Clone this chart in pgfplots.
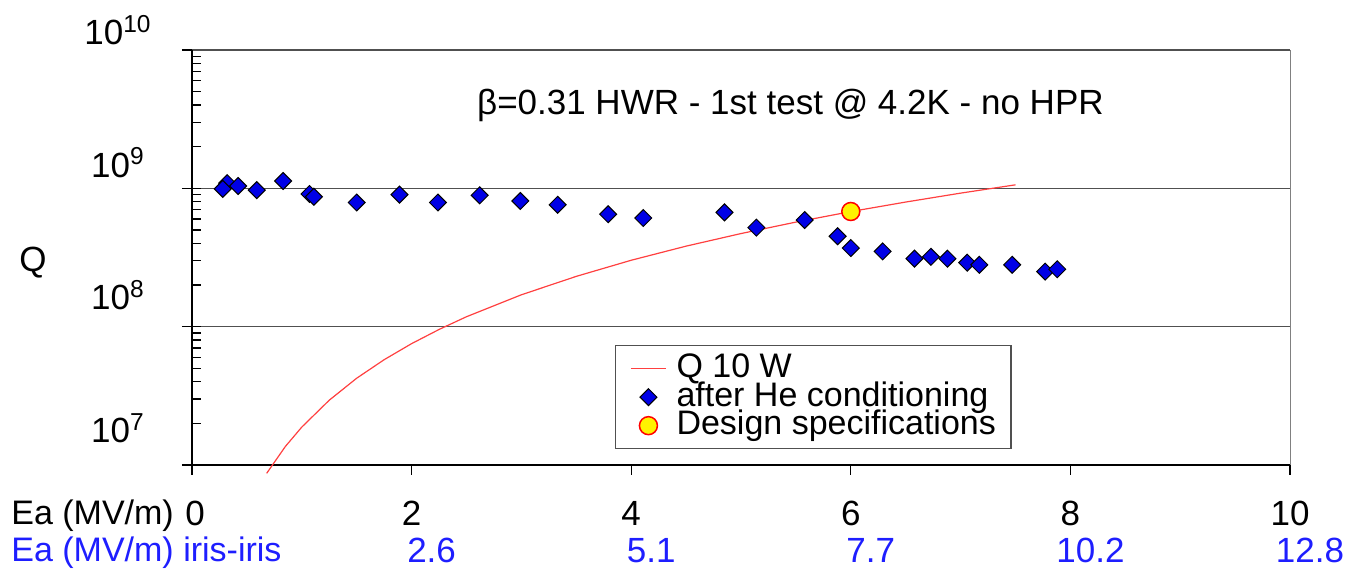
\documentclass[border=0pt]{standalone}
\usepackage{fontspec}
\setmainfont{Liberation Sans}
\usepackage{pgfplots}
\pgfplotsset{compat=1.18}
\definecolor{gridc}{HTML}{505050}
\definecolor{irisblue}{HTML}{1E1EFF}
\definecolor{diablue}{HTML}{0000E6}
\definecolor{qred}{HTML}{FF4040}

\begin{document}
\begin{tikzpicture}
\begin{axis}[
  scale only axis,
  width=549pt, height=207.5pt,
  xmin=0, xmax=10,
  ymode=log, ymin=1e7, ymax=1e10,
  axis lines=left,
  axis line style={-, black, line width=0.75pt},
  tick align=outside,
  major tick length=5pt,
  minor tick length=4.5pt,
  minor y tick style={xshift=4.5pt},
  tick style={black, line width=0.6pt},
  ymajorgrids,
  major grid style={gridc, line width=0.75pt},
  clip=false,
  xtick={0,2,4,6,8,10},
  xticklabels={\hspace*{3pt}0,
    {2\\\hspace*{20pt}\textcolor{irisblue}{2.6}},
    {4\\\hspace*{20pt}\textcolor{irisblue}{5.1}},
    {6\\\hspace*{20pt}\textcolor{irisblue}{7.7}},
    {8\\\hspace*{20pt}\textcolor{irisblue}{10.2}},
    {10\\\hspace*{20pt}\textcolor{irisblue}{12.8}}},
  xticklabel style={align=center, font=\fontsize{17.5}{18.5}\selectfont, inner sep=0pt, yshift=-13pt},
  ytick={1e7,1e8,1e9,1e10},
  yticklabels={
    \raisebox{11pt}[0pt][0pt]{10\textsuperscript{7}},
    \raisebox{8.5pt}[0pt][0pt]{10\textsuperscript{8}},
    \raisebox{5.5pt}[0pt][0pt]{10\textsuperscript{9}},
    \raisebox{2.5pt}[0pt][0pt]{10\textsuperscript{10}}},
  yticklabel style={anchor=center, inner sep=0pt, xshift=-32pt, font=\fontsize{17.5}{18.5}\selectfont},
  legend style={at={(0.385,0.289)}, anchor=north west, draw=gridc, line width=0.6pt,
    font=\fontsize{17}{17}\selectfont, row sep=1.25pt, inner xsep=7.5pt, inner ysep=5pt,
    nodes={inner sep=0pt, text height=11pt, text depth=2pt},
    /tikz/every odd column/.append style={column sep=5pt}},
  legend cell align=left,
  legend image code/.code={\draw[mark repeat=2,mark phase=2,#1]
    plot coordinates {(0pt,0pt)(8.75pt,0pt)(17.5pt,0pt)};},
]

% Q at 10 W dissipated power
\addplot[color=qred, line width=0.6pt] coordinates {
  (0.68,8.7e6)(0.85,1.36e7)(1.0,1.88e7)(1.25,2.94e7)(1.5,4.24e7)(1.75,5.77e7)
  (2.0,7.54e7)(2.25,9.54e7)(2.5,1.18e8)(3.0,1.70e8)
  (3.5,2.31e8)(4.0,3.02e8)(4.5,3.82e8)(5.0,4.71e8)(5.5,5.70e8)(6.0,6.79e8)
  (6.5,7.96e8)(7.0,9.23e8)(7.5,1.06e9)};
\addlegendentry{Q 10 W}

% measured after He conditioning
\addplot[only marks, mark=square*, mark size=3pt,
  mark options={rotate=45, fill=diablue, draw=black, line width=0.5pt}] coordinates {
  (0.32,1.09e9)(0.28,0.99e9)(0.42,1.04e9)(0.59,0.97e9)(0.83,1.13e9)
  (1.07,0.91e9)(1.11,0.87e9)(1.50,0.79e9)(1.89,0.90e9)(2.24,0.79e9)
  (2.62,0.89e9)(2.99,0.81e9)(3.33,0.76e9)(3.79,0.65e9)(4.11,0.61e9)
  (4.85,0.67e9)(5.14,0.52e9)(5.58,0.59e9)(5.88,0.45e9)(6.00,0.37e9)
  (6.29,0.35e9)(6.58,0.31e9)(6.73,0.32e9)(6.88,0.31e9)(7.06,0.29e9)
  (7.17,0.28e9)(7.47,0.28e9)(7.77,0.25e9)(7.88,0.26e9)};
\addlegendentry{after He conditioning}

% design point
\addplot[only marks, mark=*, mark size=4.5pt,
  mark options={fill=yellow, draw=red, line width=0.75pt}] coordinates {(6.0,0.68e9)};
\addlegendentry{Design specifications}

\draw[gray, line width=0.5pt] (rel axis cs:1,0) -- (rel axis cs:1,1);
\node[font=\fontsize{17.5}{20}\selectfont] at (rel axis cs:0.545,0.867)
  {β=0.31 HWR - 1st test @ 4.2K - no HPR};
\node[font=\fontsize{17.5}{18}\selectfont] at ([xshift=-79.5pt, yshift=101pt]rel axis cs:0,0) {Q};
\node[anchor=west, inner sep=0pt, font=\fontsize{17}{18}\selectfont]
  at ([xshift=-90.5pt, yshift=-25.5pt]rel axis cs:0,0) {Ea (MV/m)};
\node[anchor=west, inner sep=0pt, text=irisblue, font=\fontsize{17}{18}\selectfont]
  at ([xshift=-90.5pt, yshift=-44pt]rel axis cs:0,0) {Ea (MV/m) iris-iris};
\path ([xshift=-96pt, yshift=-53pt]rel axis cs:0,0) rectangle ([xshift=31pt, yshift=25pt]rel axis cs:1,1);
\end{axis}
\end{tikzpicture}
\end{document}
